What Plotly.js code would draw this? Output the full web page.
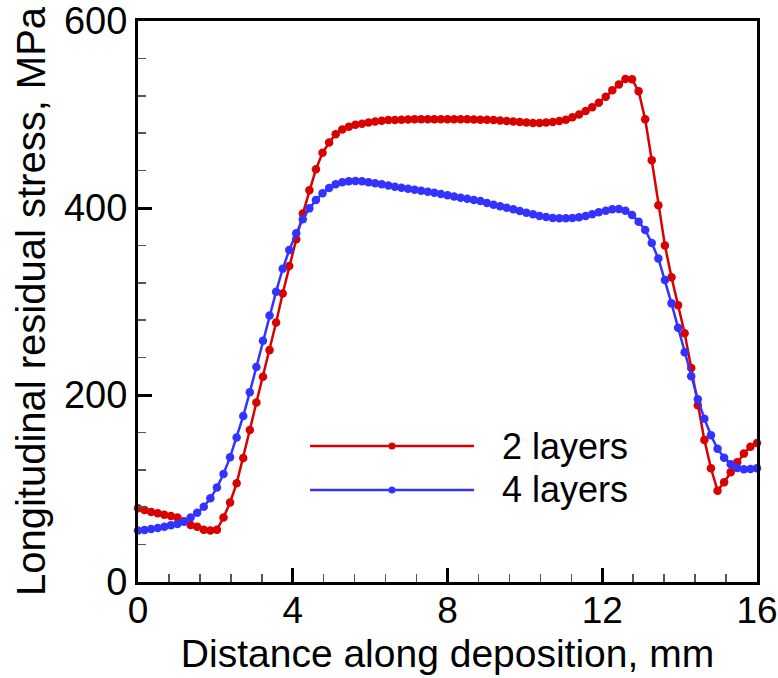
<!DOCTYPE html>
<html>
<head>
<meta charset="utf-8">
<script src="https://cdn.plot.ly/plotly-3.0.1.min.js"></script>
<style>html,body{margin:0;padding:0;background:#fff;}#chart{width:778px;height:678px;}</style>
</head>
<body>
<div id="chart"></div>
<script>
// Distance along deposition (mm)
const distance = [0,0.17,0.34,0.51,0.68,0.85,1.02,1.19,1.36,1.53,1.70,1.87,2.04,2.21,2.38,2.55,2.72,2.89,3.06,3.23,3.40,3.57,3.74,3.91,4.09,4.26,4.43,4.60,4.77,4.94,5.11,5.28,5.45,5.62,5.79,5.96,6.13,6.30,6.47,6.64,6.81,6.98,7.15,7.32,7.49,7.66,7.83,8.00,8.17,8.34,8.51,8.68,8.85,9.02,9.19,9.36,9.53,9.70,9.87,10.04,10.21,10.38,10.55,10.72,10.89,11.06,11.23,11.40,11.57,11.74,11.91,12.09,12.26,12.43,12.60,12.77,12.94,13.11,13.28,13.45,13.62,13.79,13.96,14.13,14.30,14.47,14.64,14.81,14.98,15.15,15.32,15.49,15.66,15.83,16.00];

// Longitudinal residual stress (MPa), 2 layers
const stress2 = [79,77,75,73.5,72,70.5,69,65,61,59,56,55,56,69,85,105.5,132.5,162.5,192,219.5,248,277.5,308.5,338,366.5,394,419,441.5,459,470,479,484,487,489,490,491.5,492.5,493.4,494,494.2,494.4,494.6,494.8,495,495,495,495,495,495,495,494.8,494.6,494.5,494.5,494,493.5,493,492.5,492,491.5,491,491,491.5,492,493,494.5,497,500,503.7,507.7,512.6,519,526,532,538,537.6,525,494.8,451,403,360,326,296,266,229,189,152,121.6,97.7,106.6,117.3,128,137.3,144.7,148.7];

// Longitudinal residual stress (MPa), 4 layers
const stress4 = [55,55.6,56.7,57.8,59,60.6,62,64.5,69,74,80.5,89.5,101,115.5,133.5,154.5,177.5,203,230,258,285,310.5,335,355,373,388,399.6,408.6,415.7,421.3,425.3,427.5,428.5,428.9,428.5,427.5,426.4,425.3,424,422.8,421.7,420.6,419.6,418.5,417.4,416.3,415,413.7,412.3,411,409.8,408.5,407.5,405.3,403.5,401.8,400.3,398.6,396.8,395,393.2,391.4,390.4,389.3,389,389,389.3,390,391.4,393.2,395.4,397,398.6,399,397,392.5,385.4,376.5,362.5,346,323,298,272,245.7,220,195.5,174.5,157,142.5,133,126,122,120.6,120.8,121.6];

const seriesNames = ["2 layers", "4 layers"];
const xTickVals = [0, 4, 8, 12, 16];
const yTickVals = [0, 200, 400, 600];

const RED = "#d90000";
const BLUE = "#3333ff";
const FONT = "Liberation Sans, Arial, Helvetica, sans-serif";

const traces = [
  {x: distance, y: stress2, name: seriesNames[0], mode: "lines+markers", cliponaxis: false,
   line: {color: RED, width: 2.5}, marker: {color: RED, size: 8.5, symbol: "circle"}, showlegend: false},
  {x: distance, y: stress4, name: seriesNames[1], mode: "lines+markers", cliponaxis: false,
   line: {color: BLUE, width: 2.5}, marker: {color: BLUE, size: 8.5, symbol: "circle"}, showlegend: false}
];

// Hand-drawn legend (long sample lines, like the reference)
const legY = [0.2424, 0.164];
const legColors = [RED, BLUE];
const shapes = [];
const annotations = [];
for (let k = 0; k < 2; k++) {
  shapes.push({type: "line", xref: "paper", yref: "paper", x0: 0.278, x1: 0.543, y0: legY[k], y1: legY[k],
    line: {color: legColors[k], width: 2.5}});
  shapes.push({type: "circle", xref: "paper", yref: "paper", xsizemode: "pixel", ysizemode: "pixel",
    xanchor: 0.4103, yanchor: legY[k], x0: -3.5, x1: 3.5, y0: -3.5, y1: 3.5,
    fillcolor: legColors[k], line: {color: legColors[k], width: 0}});
  annotations.push({xref: "paper", yref: "paper", x: 0.585, y: legY[k], xanchor: "left", yanchor: "middle",
    text: seriesNames[k], showarrow: false, font: {family: FONT, size: 36, color: "#000"}});
}

const layout = {
  width: 778, height: 678,
  margin: {l: 138, r: 21, t: 21, b: 96},
  paper_bgcolor: "#fff", plot_bgcolor: "#fff",
  font: {family: FONT, size: 38, color: "#000"},
  showlegend: false,
  xaxis: {
    range: [0, 16], tickvals: xTickVals, ticktext: xTickVals.map(String),
    showgrid: false, zeroline: false,
    showline: true, linecolor: "#000", linewidth: 3, mirror: true,
    ticks: "inside", ticklen: 14, tickwidth: 3, tickcolor: "#000",
    minor: {dtick: 0.8, ticks: "inside", ticklen: 8, tickwidth: 1.5, tickcolor: "#555", showgrid: false},
    tickfont: {family: FONT, size: 37, color: "#000"},
    ticklabeloverflow: "allow",
    ticklabelstandoff: -6,
    title: {text: "Distance along deposition, mm", font: {family: FONT, size: 39, color: "#000"}, standoff: 10}
  },
  yaxis: {
    range: [0, 600], tickvals: yTickVals, ticktext: yTickVals.map(String),
    showgrid: false, zeroline: false,
    showline: true, linecolor: "#000", linewidth: 3, mirror: true,
    ticks: "inside", ticklen: 14, tickwidth: 3, tickcolor: "#000",
    minor: {dtick: 40, ticks: "inside", ticklen: 8, tickwidth: 1.5, tickcolor: "#555", showgrid: false},
    tickfont: {family: FONT, size: 38, color: "#000"},
    ticklabeloverflow: "allow",
    title: {text: "Longitudinal residual stress, MPa", font: {family: FONT, size: 40, color: "#000"}, standoff: 6}
  },
  shapes: shapes,
  annotations: annotations
};

Plotly.newPlot("chart", traces, layout, {staticPlot: true, displayModeBar: false});
</script>
</body>
</html>
